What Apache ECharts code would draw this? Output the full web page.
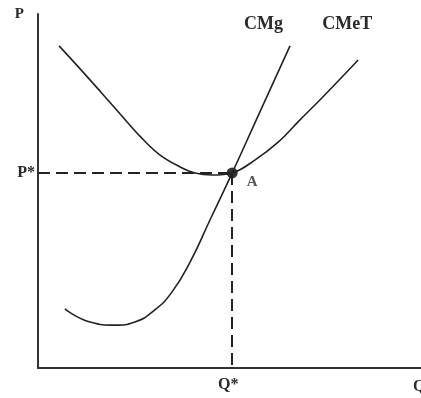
<!DOCTYPE html>
<html>
<head>
<meta charset="utf-8">
<script src="https://cdn.jsdelivr.net/npm/echarts@6/dist/echarts.min.js"></script>
<style>
  html, body { margin: 0; padding: 0; background: #fff; }
  #chart_container { width: 421px; height: 398px; }
</style>
</head>
<body>
<div id="chart_container"></div>
<script>
// equilibrium (point A)
const qStar = 5.07
const pStar = 5.51

// marginal cost curve CMg (x = quantity, y = price)
const cmgQ = [0.70, 1.36, 2.01, 2.53, 3.05, 3.50, 3.97, 4.49, 5.07, 5.80, 6.58]
const cmgP = [1.67, 1.30, 1.21, 1.30, 1.64, 2.15, 2.99, 4.18, 5.51, 7.25, 9.10]

// average total cost curve CMeT
const cmetQ = [0.55, 1.10, 1.62, 2.14, 2.66, 3.18, 3.71, 4.10, 4.54, 5.07, 5.67, 6.27, 6.84, 7.36, 8.36]
const cmetP = [9.10, 8.45, 7.82, 7.18, 6.55, 6.02, 5.68, 5.51, 5.45, 5.51, 5.88, 6.38, 7.01, 7.57, 8.70]

const serifFont = "Liberation Serif"
const textColor = "#2a2a2a"

function pairs(xs, ys){
    return xs.map((x, i) => [x, ys[i]])
}

document.addEventListener("DOMContentLoaded", buildChart)

function buildChart(){
    let chart = echarts.init(document.getElementById('chart_container'))

    let dashStyle = { color: "#222", width: 2, type: [12, 6] }
    let txt = (size) => ({ fontFamily: serifFont, fontSize: size, fontWeight: "bold", color: textColor })

    let option = {
        animation: false,
        grid: { left: 38, top: 14, right: 0, bottom: 30, outerBoundsMode: "none", containLabel: false },
        xAxis: {
            type: "value", min: 0, max: 10,
            name: "Q",
            nameLocation: "end",
            nameGap: -8,
            nameTextStyle: { ...txt(16), verticalAlign: "top", padding: [11, 0, 0, 0] },
            axisLine: { lineStyle: { color: "#333", width: 2 } },
            axisTick: { show: false },
            splitLine: { show: false },
            axisLabel: {
                customValues: [qStar],
                formatter: () => "Q*",
                ...txt(16), margin: 9, padding: [0, 8, 0, 0]
            }
        },
        yAxis: {
            type: "value", min: 0, max: 10,
            name: "P",
            nameLocation: "end",
            nameGap: -8,
            nameTextStyle: { ...txt(15), align: "right", padding: [0, 14, 0, 0] },
            axisLine: { lineStyle: { color: "#333", width: 2 } },
            axisTick: { show: false },
            splitLine: { show: false },
            axisLabel: {
                customValues: [pStar],
                formatter: () => "P*",
                ...txt(16), margin: 3
            }
        },
        series: [
            {
                name: "CMg",
                type: "line",
                smooth: 0.5,
                showSymbol: false,
                data: pairs(cmgQ, cmgP),
                lineStyle: { color: "#222", width: 1.6 },
                endLabel: {
                    show: true, formatter: "CMg",
                    ...txt(18),
                    offset: [-54, -22]
                }
            },
            {
                name: "CMeT",
                type: "line",
                smooth: 0.4,
                showSymbol: false,
                data: pairs(cmetQ, cmetP),
                lineStyle: { color: "#222", width: 1.6 },
                endLabel: {
                    show: true, formatter: "CMeT",
                    ...txt(18),
                    offset: [-44, -36]
                }
            },
            {
                name: "A",
                type: "scatter",
                data: [[qStar, pStar]],
                symbolSize: 11,
                itemStyle: { color: "#000" },
                label: {
                    show: true, formatter: "A", position: "right",
                    offset: [4, 9],
                    ...txt(15)
                },
                markLine: {
                    silent: true,
                    symbol: "none",
                    label: { show: false },
                    lineStyle: dashStyle,
                    data: [
                        [{ coord: [0, pStar] }, { coord: [qStar, pStar] }],
                        [{ coord: [qStar, pStar] }, { coord: [qStar, 0] }]
                    ]
                }
            }
        ]
    }
    chart.setOption(option)
}
</script>
</body>
</html>
